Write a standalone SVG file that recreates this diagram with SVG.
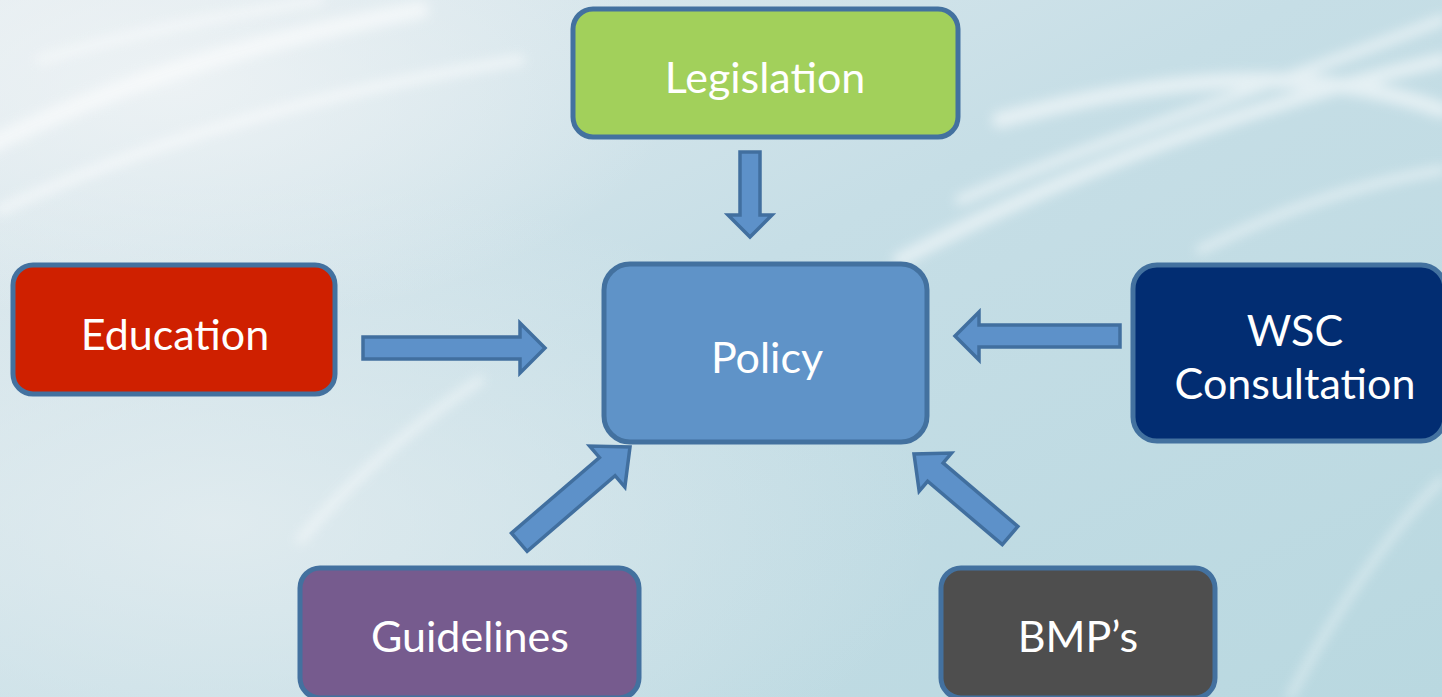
<svg xmlns="http://www.w3.org/2000/svg" width="1442" height="697" viewBox="0 0 1442 697">
  <defs>
    <linearGradient id="bg" x1="0" y1="0" x2="1" y2="1">
      <stop offset="0" stop-color="#e4ecf0"/>
      <stop offset="0.45" stop-color="#c6dee6"/>
      <stop offset="1" stop-color="#b9d8e0"/>
    </linearGradient>
    <radialGradient id="glowL" cx="0.15" cy="0.75" r="0.5">
      <stop offset="0" stop-color="#e6eef1" stop-opacity="0.8"/>
      <stop offset="1" stop-color="#e6eef1" stop-opacity="0"/>
    </radialGradient>
    <radialGradient id="glowTL" cx="0.12" cy="0.12" r="0.35">
      <stop offset="0" stop-color="#f0f4f6" stop-opacity="0.8"/>
      <stop offset="1" stop-color="#f0f4f6" stop-opacity="0"/>
    </radialGradient>
    <filter id="blur" x="-20%" y="-20%" width="140%" height="140%">
      <feGaussianBlur stdDeviation="6"/>
    </filter>
    <style>
      .box { stroke: #43719f; stroke-width: 5; }
      .arrow { fill: #5d91c9; stroke: #416f9f; stroke-width: 3.5; stroke-linejoin: miter; }
      .lbl { font-family: Lato, "Liberation Sans", sans-serif; font-size: 43px; fill: #ffffff; text-anchor: middle; }
      .streak { fill: none; stroke: #ffffff; stroke-linecap: round; }
    </style>
  </defs>

  <g id="background">
    <rect x="0" y="0" width="1442" height="697" fill="url(#bg)"/>
    <rect x="0" y="0" width="1442" height="697" fill="url(#glowL)"/>
    <rect x="0" y="0" width="1442" height="697" fill="url(#glowTL)"/>
    <g filter="url(#blur)" opacity="0.55">
      <path class="streak" stroke-width="18" d="M -20 150 C 120 80 260 40 420 10"/>
      <path class="streak" stroke-width="10" d="M 0 210 C 150 140 330 90 520 60"/>
      <path class="streak" stroke-width="8" d="M 40 60 C 140 30 230 15 320 0"/>
      <path class="streak" stroke-width="14" d="M 900 260 C 1050 180 1230 110 1442 60"/>
      <path class="streak" stroke-width="10" d="M 960 200 C 1100 140 1260 90 1442 20"/>
      <path class="streak" stroke-width="16" d="M 1000 120 C 1150 80 1300 60 1442 110"/>
      <path class="streak" stroke-width="8" d="M 1200 250 C 1300 200 1380 180 1442 170"/>
      <path class="streak" stroke-width="8" d="M 300 540 C 360 470 420 420 480 380"/>
      <path class="streak" stroke-width="6" d="M 1290 697 C 1340 600 1400 520 1442 480"/>
    </g>
  </g>

  <g id="connectors">
    <polygon class="arrow" transform="translate(750,237) rotate(90)" points="-85,-10 -22,-10 -22,-22 0,0 -22,22 -22,10 -85,10"/>
    <polygon class="arrow" transform="translate(545,348)" points="-182,-11 -25,-11 -25,-25 0,0 -25,25 -25,11 -182,11"/>
    <polygon class="arrow" transform="translate(955,336) rotate(180)" points="-165,-11 -24,-11 -24,-24 0,0 -24,24 -24,11 -165,11"/>
    <polygon class="arrow" transform="translate(630,447) rotate(-40.7)" points="-146,-12 -30,-12 -30,-27 0,0 -30,27 -30,12 -146,12"/>
    <polygon class="arrow" transform="translate(914,454) rotate(220.3)" points="-126,-12 -28,-12 -28,-25 0,0 -28,25 -28,12 -126,12"/>
  </g>

  <g id="node-legislation">
    <rect class="box" x="573" y="9" width="385" height="128" rx="20" fill="#a2d05b"/>
    <text class="lbl" x="765" y="93">Legislation</text>
  </g>

  <g id="node-education">
    <rect class="box" x="13" y="265" width="322" height="129" rx="20" fill="#cf2000"/>
    <text class="lbl" x="175" y="350">Education</text>
  </g>

  <g id="node-policy">
    <rect class="box" x="604" y="264" width="323" height="178" rx="26" fill="#5f93c8"/>
    <text class="lbl" x="767" y="373">Policy</text>
  </g>

  <g id="node-wsc">
    <rect class="box" x="1133" y="265" width="312" height="176" rx="24" fill="#022d72"/>
    <text class="lbl" x="1295" y="346">WSC</text>
    <text class="lbl" x="1295" y="399">Consultation</text>
  </g>

  <g id="node-guidelines">
    <rect class="box" x="300" y="568" width="339" height="130" rx="20" fill="#765b8e"/>
    <text class="lbl" x="470" y="652">Guidelines</text>
  </g>

  <g id="node-bmps">
    <rect class="box" x="941" y="568" width="274" height="130" rx="20" fill="#4e4e4e"/>
    <text class="lbl" x="1078" y="652">BMP’s</text>
  </g>
</svg>
